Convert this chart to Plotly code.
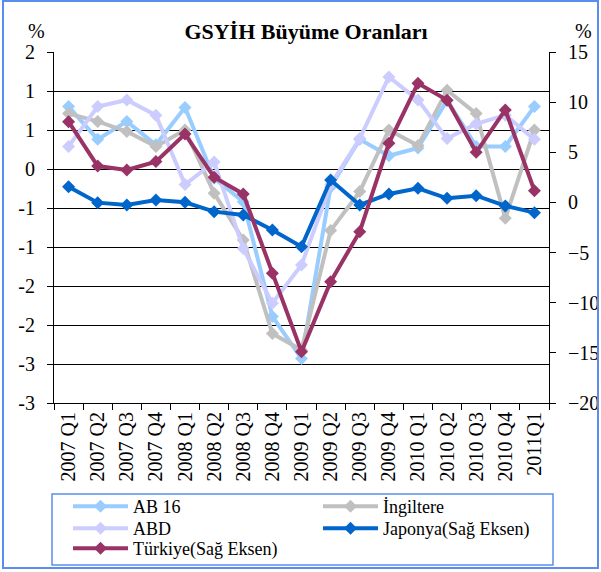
import plotly.graph_objects as go

categories = ["2007 Q1", "2007 Q2", "2007 Q3", "2007 Q4", "2008 Q1", "2008 Q2", "2008 Q3",
              "2008 Q4", "2009 Q1", "2009 Q2", "2009 Q3", "2009 Q4", "2010 Q1", "2010 Q2",
              "2010 Q3", "2010 Q4", "2011Q1"]

ab16 = [0.80, 0.38, 0.61, 0.31, 0.79, -0.12, -0.42, -1.89, -2.43, -0.23, 0.38, 0.17, 0.27, 0.88, 0.29, 0.29, 0.80]
ingiltere = [0.71, 0.61, 0.48, 0.29, 0.50, -0.31, -0.91, -2.11, -2.32, -0.79, -0.29, 0.50, 0.30, 1.01, 0.71, -0.63, 0.50]
abd = [0.29, 0.80, 0.885, 0.69, -0.20, 0.09, -1.02, -1.72, -1.23, -0.20, 0.39, 1.18, 0.885, 0.39, 0.58, 0.69, 0.38]
japonya = [1.57, -0.02, -0.25, 0.24, 0.01, -0.92, -1.25, -2.75, -4.41, 2.24, -0.25, 0.84, 1.41, 0.41, 0.67, -0.35, -1.02]
turkiye = [8.05, 3.63, 3.24, 4.07, 6.82, 2.50, 0.84, -7.07, -14.88, -7.90, -2.92, 5.90, 11.88, 10.20, 5.00, 9.22, 1.17]

left_tickvals = [-3, -2.5, -2, -1.5, -1, -0.5, 0, 0.5, 1, 1.5]
left_ticktext = ["-3", "-3", "-2", "-2", "-1", "-1", "0", "1", "1", "2"]
right_tickvals = [-20, -15, -10, -5, 0, 5, 10, 15]

FONT = "Times New Roman, Liberation Serif, serif"
W, H = 601, 572
L, R, T, B = 54, 52, 52, 169
PW, PH = W - L - R, H - T - B

def px(x):
    return (x - L) / PW

def py(y):
    return (H - B - y) / PH

# name, values, colour, axis, legend id, legend position (left px, top px)
series = [
    ("AB 16", ab16, "#99CCFF", "y", "legend", (68, 488)),
    ("İngiltere", ingiltere, "#C0C0C0", "y", "legend2", (318, 488)),
    ("ABD", abd, "#CCCCFF", "y", "legend3", (68, 510)),
    ("Japonya(Sağ Eksen)", japonya, "#0066CC", "y2", "legend4", (318, 510)),
    ("Türkiye(Sağ Eksen)", turkiye, "#993366", "y2", "legend5", (68, 530)),
]

fig = go.Figure()
legends = {}
for name, vals, color, ax, lg, (lx, ly) in series:
    fig.add_trace(go.Scatter(
        x=categories, y=vals, name=name, yaxis=ax, mode="lines+markers",
        line=dict(color=color, width=4),
        marker=dict(symbol="diamond", size=10, color=color),
        legend=lg,
    ))
    legends[lg] = dict(orientation="v", xanchor="left", yanchor="top",
                       x=px(lx), y=py(ly),
                       font=dict(family=FONT, size=18), itemwidth=55,
                       bgcolor="rgba(0,0,0,0)", borderwidth=0)

fig.update_layout(
    width=W, height=H,
    margin=dict(l=L, r=R, t=T, b=B, autoexpand=False),
    paper_bgcolor="white", plot_bgcolor="white",
    font=dict(family=FONT, size=20, color="black"),
    title=dict(text="GSYİH Büyüme Oranları", x=px(306), xref="paper", xanchor="center",
               y=1 - 31 / H, yref="container", yanchor="middle",
               font=dict(family=FONT, size=22, color="black", weight="bold")),
    xaxis=dict(type="category", range=[-0.5, 16.5], showline=True, linecolor="black",
               linewidth=1, ticks="outside", ticklen=6, tickcolor="black",
               tickson="boundaries", tickangle=-90, showgrid=False, zeroline=False,
               tickfont=dict(family=FONT, size=20)),
    yaxis=dict(range=[-3, 1.5], tickvals=left_tickvals, ticktext=left_ticktext,
               showline=True, linecolor="black", linewidth=1, ticks="outside",
               ticklen=6, tickcolor="black", showgrid=True, gridcolor="black",
               gridwidth=1, zeroline=False, ticklabelstandoff=8,
               tickfont=dict(family=FONT, size=20)),
    yaxis2=dict(range=[-20, 15], tickvals=right_tickvals, overlaying="y", side="right",
                showline=True, linecolor="black", linewidth=1, ticks="outside",
                ticklen=6, tickcolor="black", showgrid=False, zeroline=False,
                ticklabelstandoff=8, tickfont=dict(family=FONT, size=20)),
    showlegend=True,
    **legends,
)

fig.add_annotation(text="%", xref="paper", yref="paper", x=px(36), y=py(31),
                   xanchor="center", yanchor="middle",
                   showarrow=False, font=dict(family=FONT, size=20))
fig.add_annotation(text="%", xref="paper", yref="paper", x=px(583), y=py(31),
                   xanchor="center", yanchor="middle",
                   showarrow=False, font=dict(family=FONT, size=20))

# legend frame and outer chart frame
fig.add_shape(type="rect", xref="paper", yref="paper", x0=px(52), x1=px(553),
              y0=py(565), y1=py(494), line=dict(color="#5B8DEF", width=1.5))
fig.add_shape(type="rect", xref="paper", yref="paper", x0=px(3), x1=px(598),
              y0=py(568), y1=py(1), line=dict(color="#5B8DEF", width=2))

fig.write_html("out.html", config={"displayModeBar": False},
               post_script="document.body.style.margin='0';document.body.style.overflow='hidden';")
